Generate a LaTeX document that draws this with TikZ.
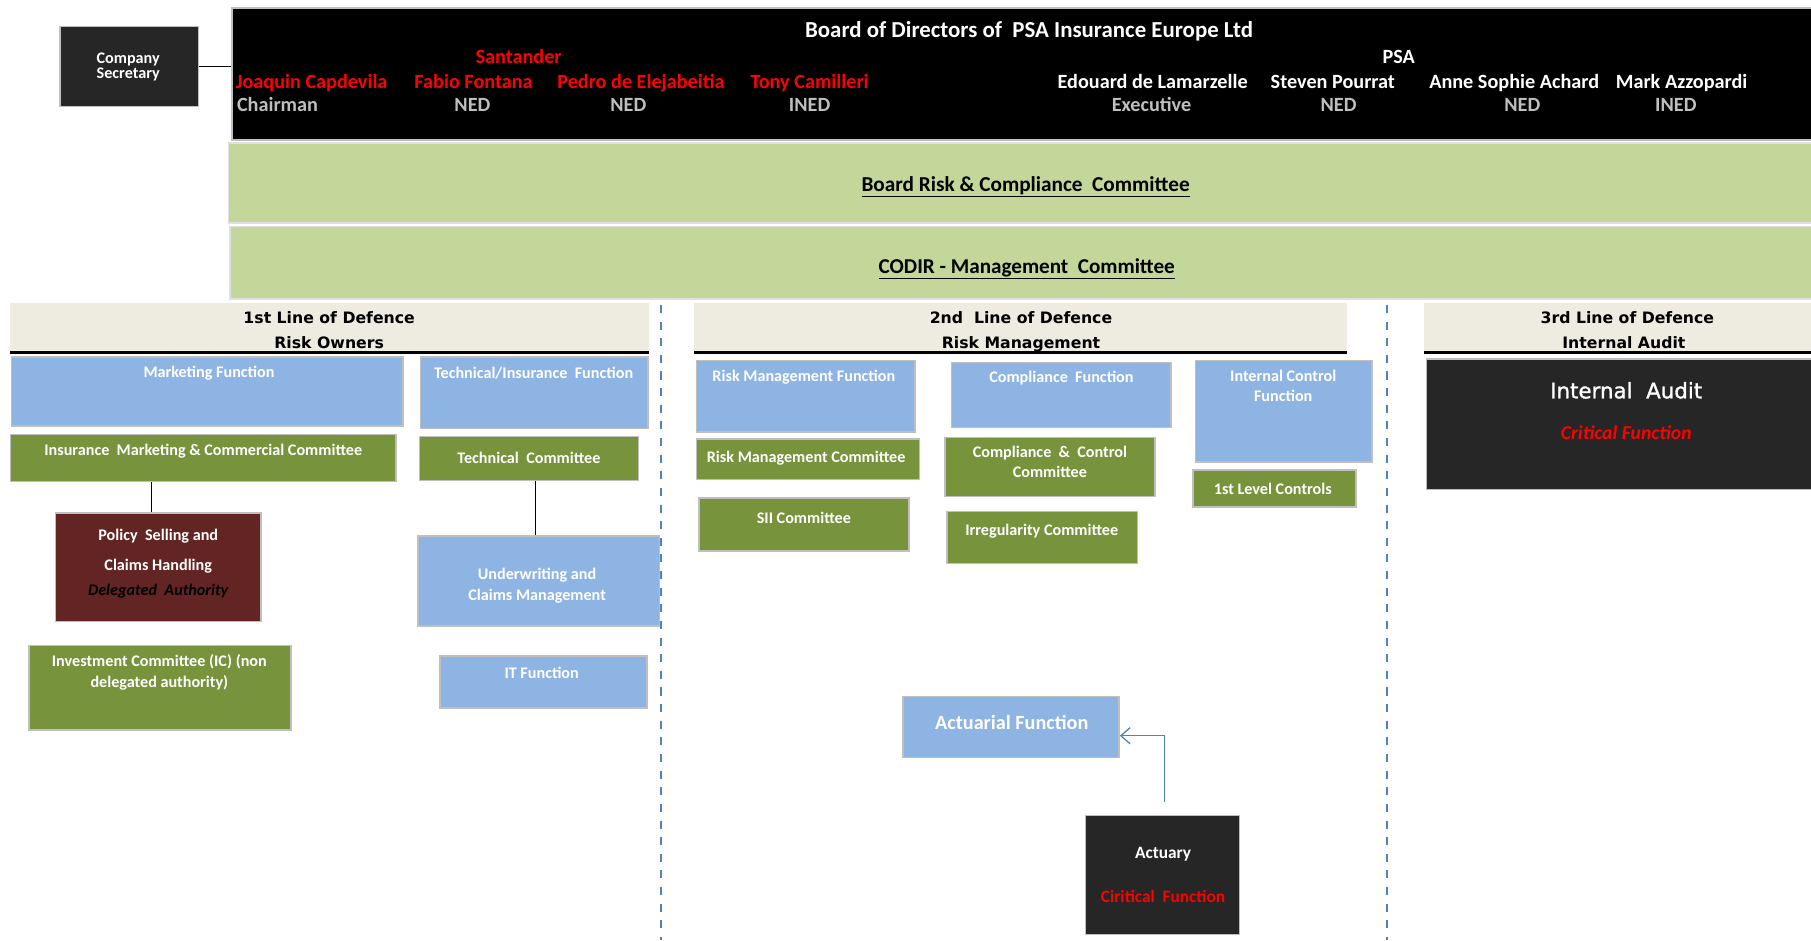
\documentclass[tikz,border=0pt]{standalone}
\usepackage{fontspec}
\setmainfont{Carlito}
\newfontfamily\verd{DejaVu Sans}
\newfontfamily\verdsb[FakeBold=1.3]{DejaVu Sans}
\usetikzlibrary{fit,calc,arrows.meta}
\definecolor{fblue}{HTML}{8EB4E3}
\definecolor{fgreen}{HTML}{77933C}
\definecolor{lgreen}{HTML}{C4D79B}
\definecolor{beige}{HTML}{EEECE1}
\definecolor{dred}{HTML}{632523}
\definecolor{dark}{HTML}{262626}
\definecolor{boxline}{HTML}{BFBFBF}
\definecolor{rolegray}{HTML}{BFBFBF}
\definecolor{linkblue}{HTML}{4F81BD}
\definecolor{hred}{HTML}{FF0000}
\begin{document}
\begin{tikzpicture}[x=1pt,y=-1pt,
 orgbox/.style={draw=boxline,line width=1.3pt,inner sep=0pt},
 bluebox/.style={orgbox,fill=fblue},
 greenbox/.style={orgbox,fill=fgreen},
 lgreenbox/.style={orgbox,fill=lgreen,draw=white!88!black},
 darkbox/.style={orgbox,fill=dark},
 hdrbox/.style={fill=beige,inner sep=0pt},
 hline/.style={line width=3pt,black},
 txt/.style={inner sep=0pt,align=center,font=\bfseries\fontsize{14}{17}\selectfont},
 wtxt/.style={txt,text=white},
 nmtxt/.style={inner sep=0pt,anchor=base,font=\bfseries\fontsize{17.5}{20}\selectfont},
 rname/.style={nmtxt,text=hred},
 wname/.style={nmtxt,text=white},
 roletxt/.style={nmtxt,text=rolegray},
 hdrtxt/.style={inner sep=0pt,anchor=base,font=\verd\bfseries\fontsize{13.6}{16}\selectfont},
 dashline/.style={linkblue,line width=1.6pt,dash pattern=on 7pt off 7.4pt},
 conn/.style={black,line width=0.9pt},
 arr/.style={linkblue,line width=1.1pt,-{Straight Barb[length=8pt,width=14pt]}}
]
\useasboundingbox (0,0) rectangle (1568,814);
\fill[white] (0,0) rectangle (1568,814);

% Company secretary and board
\node[darkbox,fit={(52,23)(172,92)}] (cs) {};
\node[wtxt,font=\bfseries\fontsize{14}{13.5}\selectfont] (cst) at (111,58) {Company\\Secretary};
\node[orgbox,fill=black,fit={(201,7)(1575,121)}] (board) {};
\draw[conn,line width=1.2pt] (cs.east) -- (cs.east -| board.west);
\node[wname,font=\bfseries\fontsize{19.8}{22}\selectfont] (bt) at (891,32.3) {Board of Directors of\ \ PSA Insurance Europe Ltd};
\node[rname] (san) at (449,54.6) {Santander};
\node[wname] (psa) at (1211,54.6) {PSA};
\node[rname,anchor=base west] (n1) at (204,76.6) {Joaquin Capdevila};
\node[rname] (n2) at (410,76.6) {Fabio Fontana};
\node[rname] (n3) at (555,76.6) {Pedro de Elejabeitia};
\node[rname] (n4) at (701,76.6) {Tony Camilleri};
\node[wname] (n5) at (998,76.6) {Edouard de Lamarzelle};
\node[wname] (n6) at (1154,76.6) {Steven Pourrat};
\node[wname] (n7) at (1311,76.6) {Anne Sophie Achard};
\node[wname] (n8) at (1456,76.6) {Mark Azzopardi};
\node[roletxt,anchor=base west] (r1) at (205,96.6) {Chairman};
\node[roletxt] (r2) at (409,96.6) {NED};
\node[roletxt] (r3) at (544,96.6) {NED};
\node[roletxt] (r4) at (701,96.6) {INED};
\node[roletxt] (r5) at (997,96.6) {Executive};
\node[roletxt] (r6) at (1159,96.6) {NED};
\node[roletxt] (r7) at (1318,96.6) {NED};
\node[roletxt] (r8) at (1451,96.6) {INED};

% committees
\node[lgreenbox,fit={(198,124)(1575,193)}] (brc) {};
\node[txt,font=\bfseries\fontsize{18.4}{20}\selectfont] (brct) at (888,161.5) {\underline{Board Risk \& Compliance\ \ Committee}};
\node[lgreenbox,fit={(199,196)(1575,259)}] (codir) {};
\node[txt,font=\bfseries\fontsize{18.3}{20}\selectfont] (codirt) at (889,232.5) {\underline{CODIR - Management\ \ Committee}};

% headers
\node[hdrbox,fit={(9,262)(562,305)}] (h1) {};
\node[hdrbox,fit={(601,262)(1166,305)}] (h2) {};
\node[hdrbox,fit={(1233,262)(1575,305)}] (h3) {};
\draw[hline] (h1.south west) -- (h1.south east);
\draw[hline] (h2.south west) -- (h2.south east);
\draw[hline] (h3.south west) -- (h3.south east);
\node[hdrtxt] (h1a) at (285,280) {1st Line of Defence};
\node[hdrtxt] (h1b) at (285,302) {Risk Owners};
\node[hdrtxt] (h2a) at (884,280) {2nd\ \ Line of Defence};
\node[hdrtxt] (h2b) at (884,302) {Risk Management};
\node[hdrtxt] (h3a) at (1409,280) {3rd Line of Defence};
\node[hdrtxt] (h3b) at (1406,302) {Internal Audit};

% dashed separators
\draw[dashline] (572,264) -- (572,814);
\draw[dashline] (1201,264) -- (1201,814);

% 1st line
\node[bluebox,fit={(10,309)(349,369)}] (mkt) {};
\node[wtxt] (mktt) at (181,323.5) {Marketing Function};
\node[bluebox,fit={(364,309)(561,371)}] (tech) {};
\node[wtxt] (techt) at (462,323.5) {Technical/Insurance\ \ Function};
\node[greenbox,fit={(9,376)(343,417)}] (imcc) {};
\node[wtxt] (imcct) at (176,390.5) {Insurance\ \ Marketing \& Commercial Committee};
\node[greenbox,fit={(363,378)(553,416)}] (tc) {};
\node[wtxt] (tct) at (458,396.5) {Technical\ \ Committee};
\node[orgbox,fill=dred,fit={(48,444)(226,538)}] (pol) {};
\node[wtxt] (polt1) at (137,464.5) {Policy\ \ Selling and};
\node[wtxt] (polt2) at (137,490.5) {Claims Handling};
\node[txt,font=\bfseries\itshape\fontsize{14}{17}\selectfont] (polt3) at (137,511.5) {Delegated\ \ Authority};
\coordinate (x1) at (131.5,0);
\draw[conn] (x1 |- imcc.south) -- (x1 |- pol.north);
\node[bluebox,fit={(362,464)(571,542)}] (uw) {};
\node[wtxt,font=\bfseries\fontsize{14}{17.5}\selectfont] (uwt) at (465,507) {Underwriting and\\Claims Management};
\coordinate (x2) at (464,0);
\draw[conn] (x2 |- tc.south) -- (x2 |- uw.north);
\node[greenbox,fit={(25,559)(252,632)}] (ic) {};
\node[wtxt,font=\bfseries\fontsize{14}{18}\selectfont] (ict) at (138,582) {Investment Committee (IC) (non\\delegated authority)};
\node[bluebox,fit={(381,568)(560,613)}] (it) {};
\node[wtxt] (itt) at (469,582.5) {IT Function};

% 2nd line
\node[bluebox,fit={(603,312)(792,374)}] (rmf) {};
\node[wtxt] (rmft) at (696,326.5) {Risk Management Function};
\node[bluebox,fit={(824,314)(1014,370)}] (cf) {};
\node[wtxt] (cft) at (919,327.5) {Compliance\ \ Function};
\node[bluebox,fit={(1035,312)(1188,400)}] (icf) {};
\node[wtxt,font=\bfseries\fontsize{14}{17}\selectfont] (icft) at (1111,334) {Internal Control\\Function};
\node[greenbox,fit={(603,380)(796,415)}] (rmc) {};
\node[wtxt] (rmct) at (698,397) {Risk Management Committee};
\node[greenbox,fit={(818,379)(1000,430)}] (ccc) {};
\node[wtxt,font=\bfseries\fontsize{14}{17}\selectfont] (ccct) at (909,400) {Compliance\ \ \&\ \ Control\\Committee};
\node[greenbox,fit={(1033,407)(1174,439)}] (flc) {};
\node[wtxt] (flct) at (1102,423) {1st Level Controls};
\node[greenbox,fit={(605,431)(787,477)}] (sii) {};
\node[wtxt] (siit) at (696,448) {SII Committee};
\node[greenbox,fit={(820,443)(985,488)}] (irr) {};
\node[wtxt] (irrt) at (902,459.5) {Irregularity Committee};

\node[bluebox,fit={(782,603)(969,656)}] (af) {};
\node[wtxt,font=\bfseries\fontsize{17.5}{20}\selectfont] (aft) at (876,625.5) {Actuarial Function};
\node[darkbox,fit={(940,706)(1073,809)}] (act) {};
\node[wtxt,font=\bfseries\fontsize{15}{17}\selectfont] (actt) at (1007,740) {Actuary};
\node[txt,text=hred,font=\bfseries\fontsize{15}{17}\selectfont] (actc) at (1007,776) {Ciritical\ \ Function};
\coordinate (astart) at (1008,694);
\draw[arr] (astart) |- ($(af.east)+(0,7.5)$);

% 3rd line
\node[darkbox,fit={(1235,311)(1575,424)}] (ia) {};
\node[inner sep=0pt,text=white,font=\verdsb\fontsize{18.5}{22}\selectfont] (iat) at (1408,338) {Internal\ \ Audit};
\node[txt,text=hred,font=\bfseries\itshape\fontsize{17}{20}\selectfont] (iac) at (1408,375) {Critical Function};
\end{tikzpicture}
\end{document}
